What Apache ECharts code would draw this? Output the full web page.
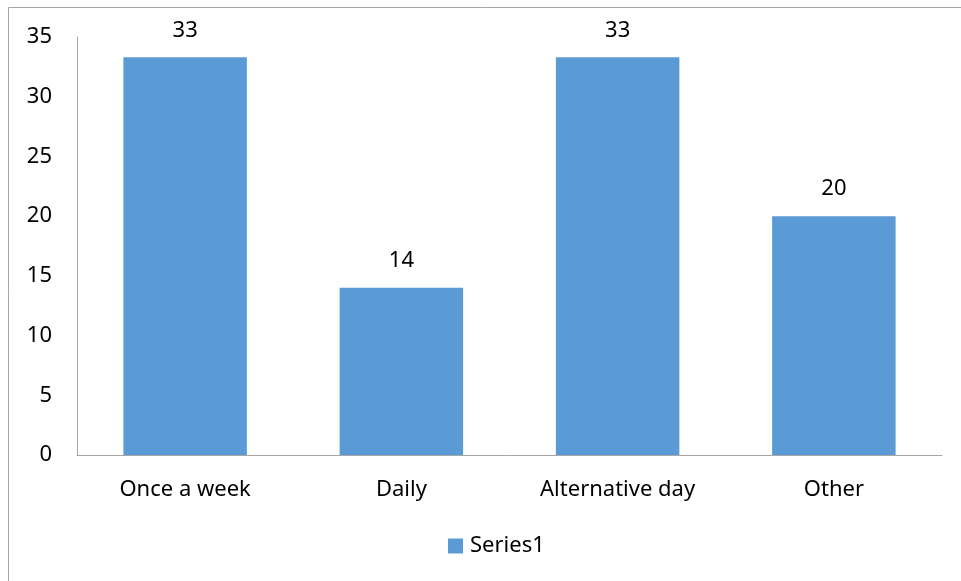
<!DOCTYPE html>
<html><head><meta charset="utf-8">
<script src="https://cdn.jsdelivr.net/npm/echarts@6/dist/echarts.min.js"></script>
<style>html,body{margin:0;padding:0;background:#fff}#c{width:961px;height:581px}</style>
</head><body><div id="c"></div>
<script>
const categories = ['Once a week', 'Daily', 'Alternative day', 'Other'];
const values = [33.3, 14, 33.3, 20];
const seriesName = 'Series1';
const font = 'Noto Sans';
const chart = echarts.init(document.getElementById('c'), null, {renderer: 'canvas'});
chart.setOption({
  animation: false,
  textStyle: {fontFamily: font},
  graphic: [
    {type: 'line', shape: {x1: 8.5, y1: 7.5, x2: 961, y2: 7.5}, style: {stroke: '#a6a6a6', lineWidth: 1}},
    {type: 'line', shape: {x1: 8.5, y1: 7.5, x2: 8.5, y2: 581}, style: {stroke: '#a6a6a6', lineWidth: 1}}
  ],
  grid: {left: 77, right: 19, top: 37, bottom: 126},
  legend: {
    data: [seriesName], bottom: 19, left: 443, itemWidth: 15, itemHeight: 15, icon: 'rect', itemGap: 6,
    textStyle: {fontFamily: font, fontSize: 22, color: '#000', padding: [0, 0, 0, 2]}
  },
  xAxis: {
    type: 'category', data: categories,
    axisLine: {lineStyle: {color: '#a6a6a6'}},
    axisTick: {show: false},
    axisLabel: {fontFamily: font, fontSize: 22, color: '#000', margin: 24}
  },
  yAxis: {
    type: 'value', min: 0, max: 35, interval: 5,
    axisLine: {show: true, lineStyle: {color: '#a6a6a6'}},
    axisTick: {show: false},
    splitLine: {show: false},
    axisLabel: {fontFamily: font, fontSize: 22, color: '#000', margin: 25}
  },
  series: [{
    name: seriesName, type: 'bar', data: values, barWidth: '57.1%',
    itemStyle: {color: '#5b9bd5'},
    label: {show: true, position: 'top', distance: 16, fontFamily: font, fontSize: 22, color: '#000',
      formatter: p => Math.round(p.value)}
  }]
});
</script></body></html>
